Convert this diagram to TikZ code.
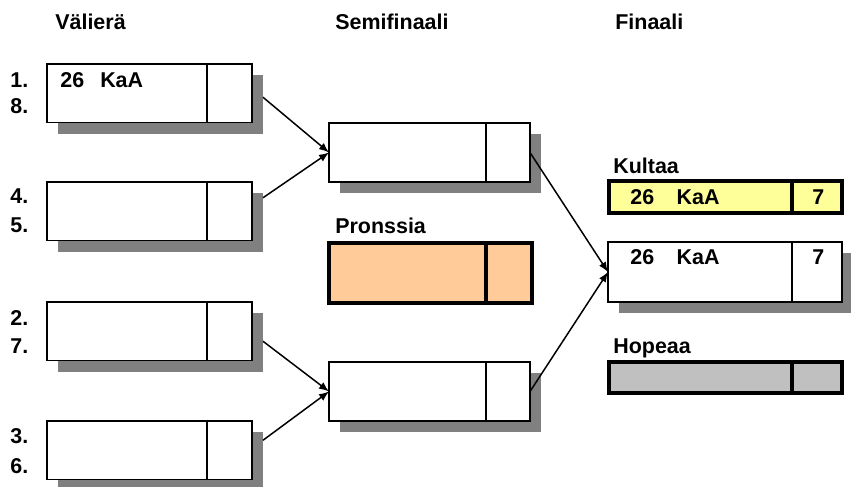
\documentclass[tikz,border=0pt]{standalone}
\usepackage{fontspec}
\setmainfont{Liberation Sans}
\usetikzlibrary{shadows, arrows.meta}
\definecolor{ombra}{HTML}{808080}
\definecolor{oro}{HTML}{FFFF99}
\definecolor{bronzo}{HTML}{FFCC99}
\definecolor{argento}{HTML}{C0C0C0}
\tikzset{
	scritta/.style={anchor=base west, inner sep=0pt, font=\fontsize{12.2}{14}\selectfont\bfseries},
	casella/.style={draw, line width=1.1pt, fill=white, anchor=north west, inner sep=0pt, outer sep=0pt},
	ombreggiata/.style={casella, drop shadow={shadow xshift=0.22cm, shadow yshift=-0.22cm, fill=ombra, opacity=1}},
	medaglia/.style={casella, line width=1.8pt},
}
\begin{document}
\begin{tikzpicture}[>={Latex[length=0.2cm, width=0.16cm]}]
		\useasboundingbox (0,0) rectangle (17.02,-9.72);
		% titoli
		\node[scritta] (valiera) at (1.10,-0.58) {Välierä};
		\node[scritta] (semi) at (6.70,-0.58) {Semifinaali};
		\node[scritta] (finaali) at (12.30,-0.58) {Finaali};
		% posizioni
		\foreach \n/\y in {1/1.74, 8/2.26, 4/4.06, 5/4.64, 2/6.50, 7/7.06, 3/8.86, 6/9.46}
			\node[scritta] (seme\n) at (0.20,-\y) {\n.};
		% quarti di finale
		\node[ombreggiata, minimum width=4.1cm, minimum height=1.17cm] (v1) at (0.94,-1.28) {};
		\node[ombreggiata, minimum width=4.1cm, minimum height=1.17cm] (v2) at (0.94,-3.64) {};
		\node[ombreggiata, minimum width=4.1cm, minimum height=1.17cm] (v3) at (0.94,-6.04) {};
		\node[ombreggiata, minimum width=4.1cm, minimum height=1.17cm] (v4) at (0.94,-8.42) {};
		\foreach \v in {v1, v2, v3, v4}
			\draw[line width=1.1pt] ([xshift=-0.9cm]\v.north east) -- ([xshift=-0.9cm]\v.south east);
		\node[scritta] (squadra1) at (1.20,-1.74) {26\hspace{0.75em}KaA};
		% semifinali
		\node[ombreggiata, minimum width=4.02cm, minimum height=1.18cm] (s1) at (6.58,-2.46) {};
		\node[ombreggiata, minimum width=4.02cm, minimum height=1.18cm] (s2) at (6.58,-7.24) {};
		\foreach \s in {s1, s2}
			\draw[line width=1.1pt] ([xshift=-0.88cm]\s.north east) -- ([xshift=-0.88cm]\s.south east);
		% bronzo
		\node[scritta] (pronssia) at (6.70,-4.66) {Pronssia};
		\node[medaglia, fill=bronzo, minimum width=4.06cm, minimum height=1.2cm] (pronssi) at (6.58,-4.86) {};
		\draw[line width=1.8pt] ([xshift=-0.92cm]pronssi.north east) -- ([xshift=-0.92cm]pronssi.south east);
		% finale
		\node[scritta] (kultaa) at (12.26,-3.46) {Kultaa};
		\node[medaglia, fill=oro, minimum width=4.66cm, minimum height=0.64cm] (kulta) at (12.18,-3.62) {};
		\node[ombreggiata, minimum width=4.68cm, minimum height=1.2cm] (f) at (12.16,-4.84) {};
		\node[scritta] (hopeaa) at (12.26,-7.06) {Hopeaa};
		\node[medaglia, fill=argento, minimum width=4.66cm, minimum height=0.62cm] (hopea) at (12.18,-7.24) {};
		\draw[line width=1.8pt] ([xshift=-1cm]kulta.north east) -- ([xshift=-1cm]kulta.south east);
		\draw[line width=1.1pt] ([xshift=-1cm]f.north east) -- ([xshift=-1cm]f.south east);
		\draw[line width=1.8pt] ([xshift=-1cm]hopea.north east) -- ([xshift=-1cm]hopea.south east);
		\node[scritta] (squadrakulta) at (12.60,-4.08) {26\hspace{1.05em}KaA};
		\node[scritta] (puntikulta) at (16.24,-4.08) {7};
		\node[scritta] (squadraf) at (12.60,-5.28) {26\hspace{1.05em}KaA};
		\node[scritta] (puntif) at (16.24,-5.28) {7};
		% frecce
		\draw[->, line width=0.85pt] ([xshift=0.22cm, yshift=-0.08cm]v1.east) -- (s1.west);
		\draw[->, line width=0.85pt] ([xshift=0.22cm, yshift=0.27cm]v2.east) -- (s1.west);
		\draw[->, line width=0.85pt] ([xshift=0.22cm, yshift=-0.2cm]v3.east) -- (s2.west);
		\draw[->, line width=0.85pt] ([xshift=0.22cm, yshift=0.2cm]v4.east) -- (s2.west);
		\draw[->, line width=0.85pt] (s1.east) -- (f.west);
		\draw[->, line width=0.85pt] (s2.east) -- (f.west);
	\end{tikzpicture}
\end{document}
